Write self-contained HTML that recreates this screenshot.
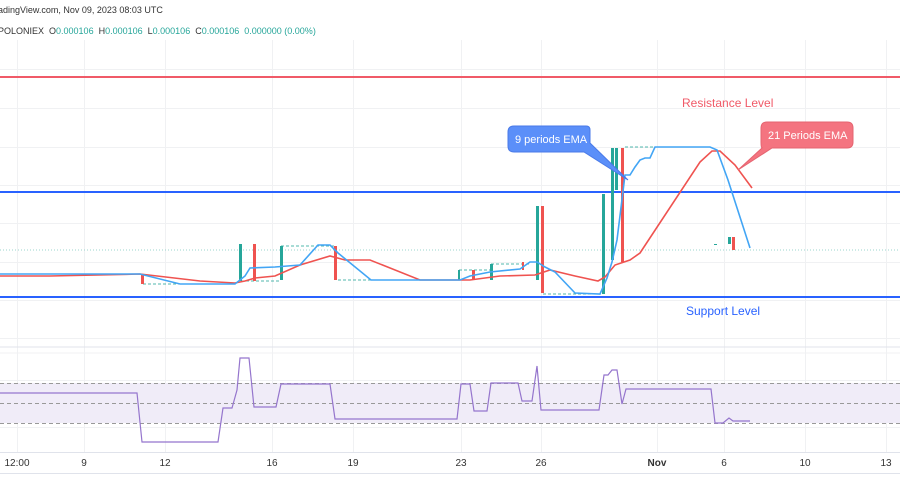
<!DOCTYPE html>
<html><head><meta charset="utf-8"><style>
html,body{margin:0;padding:0;background:#fff;}
svg{display:block;font-family:"Liberation Sans",sans-serif;}
</style></head><body>
<svg width="900" height="500" viewBox="0 0 900 500" xmlns="http://www.w3.org/2000/svg">
<rect width="900" height="500" fill="#fff"/>
<g stroke="#f0f1f3" stroke-width="1">
<line x1="17.5" y1="40" x2="17.5" y2="452"/><line x1="84.5" y1="40" x2="84.5" y2="452"/>
<line x1="165.5" y1="40" x2="165.5" y2="452"/><line x1="272.5" y1="40" x2="272.5" y2="452"/>
<line x1="353.5" y1="40" x2="353.5" y2="452"/><line x1="461.5" y1="40" x2="461.5" y2="452"/>
<line x1="541.5" y1="40" x2="541.5" y2="452"/><line x1="657.5" y1="40" x2="657.5" y2="452"/>
<line x1="724.5" y1="40" x2="724.5" y2="452"/><line x1="805.5" y1="40" x2="805.5" y2="452"/>
<line x1="886.5" y1="40" x2="886.5" y2="452"/>
<line x1="0" y1="69.5" x2="900" y2="69.5"/><line x1="0" y1="108.5" x2="900" y2="108.5"/>
<line x1="0" y1="147.5" x2="900" y2="147.5"/><line x1="0" y1="185.5" x2="900" y2="185.5"/>
<line x1="0" y1="223.5" x2="900" y2="223.5"/><line x1="0" y1="262.5" x2="900" y2="262.5"/>
<line x1="0" y1="300.5" x2="900" y2="300.5"/><line x1="0" y1="338.5" x2="900" y2="338.5"/>
<line x1="0" y1="380.5" x2="900" y2="380.5"/><line x1="0" y1="427.5" x2="900" y2="427.5"/>
</g>
<line x1="0" y1="347" x2="900" y2="347" stroke="#e0e3eb"/>
<line x1="0" y1="353" x2="900" y2="353" stroke="#f0f1f3"/>
<text x="-2" y="13" font-size="9" fill="#333">adingView.com, Nov 09, 2023 08:03 UTC</text>
<text x="-2" y="34" font-size="9" fill="#333" xml:space="preserve">POLONIEX  O<tspan fill="#26a69a">0.000106</tspan>  H<tspan fill="#26a69a">0.000106</tspan>  L<tspan fill="#26a69a">0.000106</tspan>  C<tspan fill="#26a69a">0.000106  0.000000 (0.00%)</tspan></text>
<line x1="0" y1="77" x2="900" y2="77" stroke="#f05a68" stroke-width="2"/>
<line x1="0" y1="192" x2="900" y2="192" stroke="#2962ff" stroke-width="2"/>
<line x1="0" y1="297" x2="900" y2="297" stroke="#2962ff" stroke-width="2"/>
<line x1="0" y1="250" x2="900" y2="250" stroke="#9bd4ce" stroke-dasharray="1,2"/>
<text x="682" y="107" font-size="12" fill="#f05a68">Resistance Level</text>
<text x="686" y="315" font-size="12" fill="#2962ff">Support Level</text>
<g stroke="#26a69a" stroke-dasharray="3,2" stroke-width="1" fill="none" opacity="0.8">
<line x1="143" y1="284" x2="235" y2="284"/><line x1="241" y1="281" x2="280" y2="281"/>
<line x1="281" y1="246" x2="335" y2="246"/><line x1="338" y1="280" x2="375" y2="280"/>
<line x1="543" y1="294" x2="600" y2="294"/><line x1="625" y1="147" x2="660" y2="147"/>
<line x1="459" y1="270" x2="491" y2="270"/><line x1="491" y1="264" x2="530" y2="264"/>
</g>
<g>
<rect x="141" y="274" width="3" height="10" fill="#ef5350"/>
<rect x="239" y="244" width="3" height="37" fill="#26a69a"/>
<rect x="253" y="244" width="3" height="37" fill="#ef5350"/>
<rect x="280" y="246" width="3" height="34" fill="#26a69a"/>
<rect x="334" y="246" width="3" height="34" fill="#ef5350"/>
<rect x="458" y="270" width="2" height="10" fill="#26a69a"/>
<rect x="472" y="270" width="3" height="10" fill="#ef5350"/>
<rect x="490" y="264" width="3" height="16" fill="#26a69a"/>
<rect x="522" y="262" width="2" height="8" fill="#ef5350"/>
<rect x="536" y="206" width="3" height="74" fill="#26a69a"/>
<rect x="541" y="206" width="3" height="87" fill="#ef5350"/>
<rect x="602" y="194" width="3" height="100" fill="#26a69a"/>
<rect x="611" y="148" width="3" height="112" fill="#26a69a"/>
<rect x="615" y="148" width="3" height="42" fill="#26a69a"/>
<rect x="621" y="148" width="3" height="114" fill="#ef5350"/>
<rect x="714" y="244" width="3" height="1" fill="#26a69a"/>
<rect x="728" y="237" width="3" height="7" fill="#26a69a"/>
<rect x="732" y="237" width="3" height="13" fill="#ef5350"/>
</g>
<polyline fill="none" stroke="#ef5350" stroke-width="1.6" points="0,276 50,276 140,274 200,281 235,283 245,281 255,278 275,276 300,265 330,256 345,260 370,260 420,280 470,280 500,276 535,275 550,270 575,276 598,281 605,277 615,265 630,260 640,253 700,162 712,151 720,151 735,165 752,188"/>
<polyline fill="none" stroke="#42a5f5" stroke-width="1.6" points="0,274 140,274 180,284 235,284 245,276 250,268 275,267 300,265 318,245 330,245 338,253 371,280 460,280 470,276 490,272 520,269 530,262 537,262 545,267 555,272 575,293 600,294 607,278 612,262 617,240 625,175 630,175 635,167 640,160 645,158 650,158 655,147 710,147 717,150 728,180 750,248"/>
<path d="M514,126 H586 Q590,126 590,130 V143 L628,180 L584,152 H514 Q508,152 508,146 V132 Q508,126 514,126 Z" fill="#5b8ff9" stroke="#4a7ae8"/>
<text x="515" y="143" font-size="11" fill="#fff">9 periods EMA</text>
<path d="M767,122 H847 Q853,122 853,128 V142 Q853,148 847,148 H772 L738,170 L762,148 Q761,148 761,142 V128 Q761,122 767,122 Z" fill="#f47480" stroke="#e56470"/>
<text x="768" y="139" font-size="11" fill="#fff">21 Periods EMA</text>
<rect x="0" y="383" width="900" height="40" fill="#f0ecf8"/>
<g stroke="#999" stroke-dasharray="4,3" stroke-width="1">
<line x1="0" y1="383.5" x2="900" y2="383.5"/><line x1="0" y1="403.5" x2="900" y2="403.5"/><line x1="0" y1="423.5" x2="900" y2="423.5"/>
</g>
<polyline fill="none" stroke="#9575cd" stroke-width="1.2" points="0,393 137,393 142,442 218,442 223,408 232,408 237,390 240,358 249,358 254,407 276,407 281,384 330,384 335,419 457,419 461,384 470,384 474,411 487,411 491,383 518,383 522,401 532,401 537,366 541,410 599,410 604,375 608,375 612,370 617,370 622,404 626,389 711,389 715,423 723,423 729,418 733,421 750,421"/>
<line x1="0" y1="452.5" x2="900" y2="452.5" stroke="#e0e3eb"/>
<line x1="0" y1="473.5" x2="900" y2="473.5" stroke="#e0e3eb"/>
<g font-size="10" fill="#333" text-anchor="middle">
<text x="17" y="466">12:00</text><text x="84" y="466">9</text><text x="165" y="466">12</text>
<text x="272" y="466">16</text><text x="353" y="466">19</text><text x="461" y="466">23</text>
<text x="541" y="466">26</text><text x="657" y="466" font-weight="bold">Nov</text><text x="724" y="466">6</text>
<text x="805" y="466">10</text><text x="886" y="466">13</text>
</g>
</svg>
</body></html>
